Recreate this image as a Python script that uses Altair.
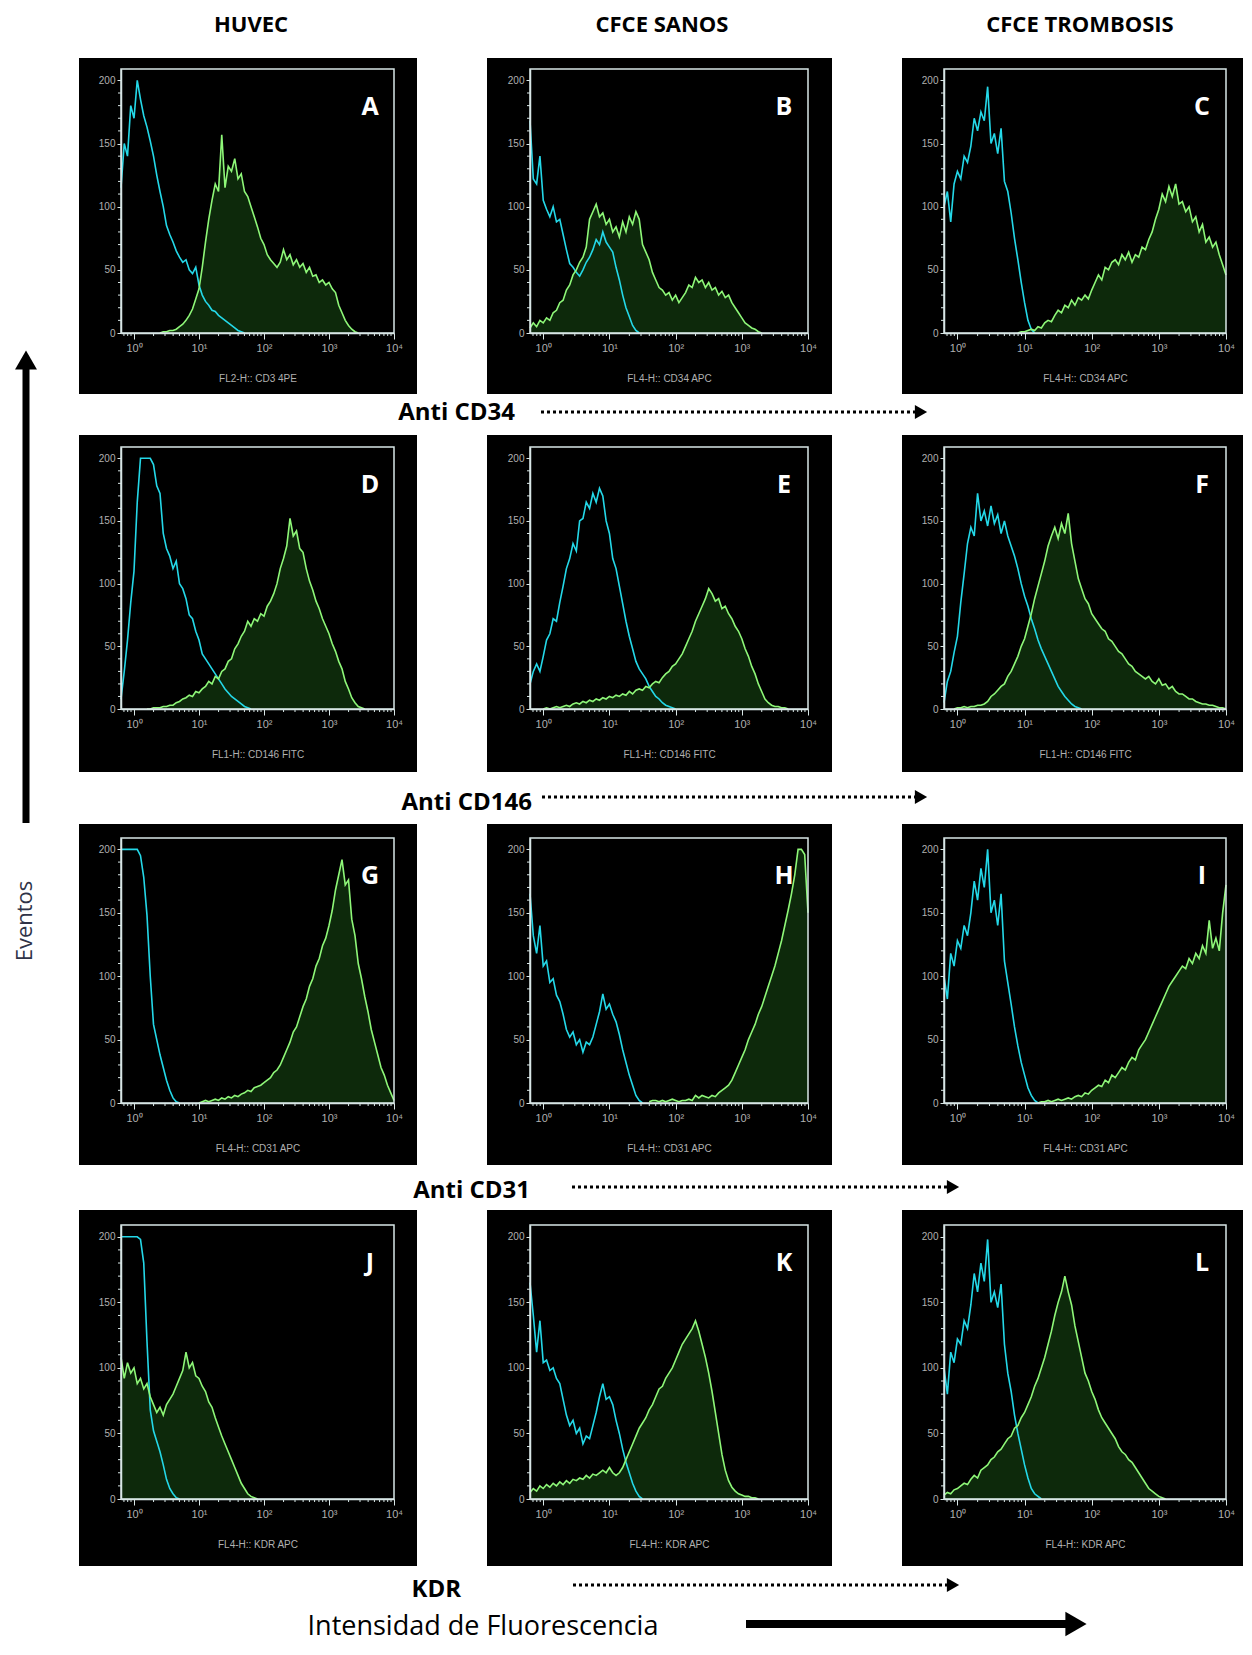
import math
import altair as alt
import pandas as pd

# ---------------------------------------------------------------- data
STEP = 0.05                     # width of one histogram channel, in log10 units
LOG_DOMAIN = [-0.2, 4.0]        # log10 of fluorescence intensity
COUNT_DOMAIN = [0, 209]
X_TICKS = [0, 1, 2, 3, 4]
X_TICK_LABELS = ["10⁰", "10¹", "10²", "10³", "10⁴"]
Y_TICKS = [0, 50, 100, 150, 200]
Y_MINOR = [10, 20, 30, 40, 60, 70, 80, 90, 110, 120, 130, 140, 160, 170, 180, 190]
COLUMN_TITLES = ["HUVEC", "CFCE SANOS", "CFCE TROMBOSIS"]
ROW_MARKERS = ["Anti CD34", "Anti CD146", "Anti CD31", "KDR"]
PANEL_LETTERS = ["A", "B", "C", "D", "E", "F", "G", "H", "I", "J", "K", "L"]
PANEL_AXIS_TITLES = [
    "FL2-H:: CD3 4PE", "FL4-H:: CD34 APC", "FL4-H:: CD34 APC",
    "FL1-H:: CD146 FITC", "FL1-H:: CD146 FITC", "FL1-H:: CD146 FITC",
    "FL4-H:: CD31 APC", "FL4-H:: CD31 APC", "FL4-H:: CD31 APC",
    "FL4-H:: KDR APC", "FL4-H:: KDR APC", "FL4-H:: KDR APC",
]
Y_LABEL = "Eventos"
X_LABEL = "Intensidad de Fluorescencia"

# isotype control (cyan) and marker (green) histograms, one value per channel
A_CYAN_START = -0.2
A_CYAN = [115, 150, 140, 180, 170, 200, 185, 172, 163, 152, 140, 125, 112, 100, 85, 78, 72, 65, 60,
          56, 58, 50, 47, 52, 38, 30, 25, 22, 18, 17, 14, 12, 10, 8, 6, 4, 2, 1, 0]
A_GREEN_START = 0.4
A_GREEN = [0, 1, 1, 2, 2, 3, 5, 7, 10, 14, 19, 27, 35, 52, 72, 90, 105, 118, 112, 157, 115, 132, 128,
           138, 122, 126, 112, 108, 100, 92, 84, 75, 70, 62, 58, 55, 52, 56, 66, 58, 62, 54, 58, 52,
           55, 48, 52, 45, 46, 40, 42, 38, 40, 35, 32, 22, 16, 10, 6, 3, 1, 0]

B_CYAN_START = -0.2
B_CYAN = [168, 122, 118, 140, 105, 98, 92, 100, 88, 90, 78, 66, 55, 52, 48, 45, 50, 56, 60, 66, 74,
          70, 80, 72, 68, 64, 52, 42, 30, 20, 13, 6, 2, 0]
B_GREEN_START = -0.2
B_GREEN = [4, 8, 5, 10, 8, 12, 10, 16, 18, 24, 26, 34, 38, 46, 50, 56, 60, 68, 90, 96, 102, 92, 95,
           86, 90, 80, 84, 76, 88, 80, 92, 86, 96, 90, 70, 64, 58, 48, 42, 36, 34, 30, 32, 26, 30,
           24, 28, 32, 38, 36, 44, 40, 42, 36, 40, 34, 36, 30, 33, 28, 30, 24, 20, 16, 12, 8, 6, 4,
           3, 1, 0]

C_CYAN_START = -0.2
C_CYAN = [100, 112, 88, 118, 128, 122, 140, 135, 148, 170, 160, 175, 168, 195, 150, 158, 142, 162,
          120, 112, 95, 75, 58, 40, 24, 10, 3, 0]
C_GREEN_START = 0.9
C_GREEN = [0, 1, 1, 2, 3, 2, 5, 4, 8, 10, 9, 14, 18, 16, 22, 20, 26, 22, 28, 26, 30, 27, 34, 40, 46,
           42, 52, 50, 56, 58, 54, 62, 58, 64, 56, 62, 60, 68, 66, 74, 80, 90, 98, 110, 104, 116,
           108, 118, 102, 104, 96, 100, 88, 92, 80, 86, 72, 76, 68, 72, 62, 54, 46]

D_CYAN_START = -0.2
D_CYAN = [8, 30, 55, 85, 110, 165, 200, 200, 200, 200, 195, 178, 172, 140, 128, 122, 112, 118, 100,
          96, 88, 75, 72, 62, 55, 44, 40, 36, 32, 28, 24, 20, 16, 13, 10, 8, 6, 4, 2, 1, 0]
D_GREEN_START = 0.2
D_GREEN = [0, 0, 1, 1, 1, 2, 2, 3, 3, 5, 6, 8, 9, 11, 10, 14, 13, 16, 18, 22, 20, 26, 24, 30, 32, 38,
           40, 48, 52, 58, 62, 70, 66, 72, 70, 76, 74, 82, 86, 92, 100, 112, 120, 130, 152, 138, 142,
           128, 125, 112, 102, 95, 86, 80, 72, 66, 60, 52, 46, 38, 32, 22, 16, 9, 5, 2, 1, 0]

E_CYAN_START = -0.2
E_CYAN = [20, 30, 36, 30, 42, 55, 60, 72, 70, 85, 98, 112, 120, 132, 126, 150, 152, 165, 160, 172,
          165, 176, 170, 150, 140, 120, 112, 98, 84, 70, 58, 48, 38, 32, 28, 24, 18, 14, 10, 8, 5,
          3, 2, 1, 0]
E_GREEN_START = 0.0
E_GREEN = [0, 1, 0, 1, 2, 1, 2, 3, 2, 4, 5, 4, 6, 5, 7, 6, 8, 7, 9, 8, 10, 9, 11, 10, 12, 11, 14, 12,
           15, 16, 15, 18, 17, 20, 22, 21, 25, 28, 30, 34, 36, 40, 44, 50, 56, 62, 70, 76, 82, 88,
           96, 92, 86, 88, 80, 82, 76, 72, 66, 62, 56, 48, 42, 34, 28, 20, 14, 8, 5, 3, 2, 2, 1, 1,
           0]

F_CYAN_START = -0.2
F_CYAN = [5, 22, 30, 45, 58, 85, 108, 132, 145, 138, 172, 150, 158, 146, 162, 148, 155, 140, 150,
          138, 130, 122, 112, 100, 90, 82, 72, 64, 55, 48, 42, 36, 30, 24, 18, 14, 10, 7, 4, 2, 1, 0]
F_GREEN_START = -0.05
F_GREEN = [0, 1, 1, 2, 1, 2, 2, 3, 3, 4, 6, 10, 12, 15, 18, 20, 26, 30, 36, 42, 50, 56, 66, 76, 88,
           98, 108, 118, 130, 138, 145, 136, 148, 140, 156, 132, 118, 104, 96, 88, 84, 76, 72, 68,
           64, 62, 56, 54, 50, 46, 44, 40, 36, 34, 30, 28, 26, 24, 26, 22, 20, 24, 19, 20, 16, 18,
           14, 12, 12, 10, 8, 8, 6, 5, 4, 4, 3, 3, 2, 1, 1, 0]

G_CYAN_START = -0.2
G_CYAN = [200, 200, 200, 200, 200, 200, 195, 178, 148, 100, 62, 50, 38, 28, 18, 10, 4, 1, 0]
G_GREEN_START = 1.0
G_GREEN = [0, 1, 2, 1, 2, 3, 2, 4, 3, 5, 4, 6, 5, 7, 8, 10, 9, 12, 13, 14, 16, 18, 20, 24, 26, 30,
           36, 42, 48, 56, 60, 68, 76, 82, 92, 98, 108, 114, 124, 130, 140, 152, 168, 180, 192, 172,
           176, 145, 132, 110, 98, 84, 72, 58, 48, 38, 28, 22, 14, 8, 2]

H_CYAN_START = -0.2
H_CYAN = [165, 132, 118, 140, 108, 112, 95, 98, 85, 80, 70, 58, 52, 56, 46, 50, 40, 48, 46, 52, 62,
          72, 86, 74, 78, 70, 64, 54, 42, 32, 22, 14, 6, 2, 0]
H_GREEN_START = 1.6
H_GREEN = [1, 2, 2, 1, 2, 1, 2, 3, 2, 1, 2, 2, 3, 2, 6, 4, 6, 5, 4, 6, 5, 8, 10, 12, 14, 18, 24, 30,
           36, 42, 50, 56, 62, 70, 76, 84, 92, 100, 108, 118, 128, 140, 152, 165, 180, 200, 200,
           196, 150]

I_CYAN_START = -0.2
I_CYAN = [100, 82, 118, 108, 128, 122, 140, 132, 150, 175, 160, 185, 170, 200, 150, 160, 140, 165,
          112, 95, 78, 60, 45, 32, 22, 12, 6, 2, 0]
I_GREEN_START = 1.2
I_GREEN = [0, 1, 1, 2, 1, 2, 3, 2, 3, 4, 3, 5, 6, 5, 8, 7, 10, 12, 14, 13, 18, 16, 22, 20, 24, 28,
           26, 32, 36, 34, 42, 46, 50, 56, 62, 68, 74, 80, 86, 92, 96, 100, 104, 108, 106, 114,
           110, 118, 114, 124, 118, 144, 122, 130, 120, 150, 172]

J_CYAN_START = -0.2
J_CYAN = [200, 200, 200, 200, 200, 200, 198, 180, 120, 68, 52, 44, 36, 26, 15, 8, 4, 1, 0]
J_GREEN_START = -0.2
J_GREEN = [108, 92, 104, 96, 100, 88, 92, 84, 88, 78, 72, 66, 70, 64, 72, 76, 80, 86, 92, 98, 112,
           100, 104, 94, 92, 86, 82, 74, 70, 62, 55, 48, 42, 36, 30, 24, 18, 12, 8, 4, 2, 1, 0]

K_CYAN_START = -0.2
K_CYAN = [165, 140, 112, 136, 104, 106, 98, 100, 92, 88, 76, 64, 56, 60, 50, 54, 42, 48, 46, 56, 66,
          78, 88, 76, 78, 72, 60, 50, 38, 28, 20, 12, 6, 2, 0]
K_GREEN_START = -0.2
K_GREEN = [5, 8, 6, 10, 8, 11, 9, 12, 10, 13, 11, 14, 12, 15, 14, 16, 15, 18, 16, 19, 18, 20, 22, 20,
           24, 20, 18, 20, 24, 30, 36, 42, 48, 54, 58, 62, 68, 72, 78, 84, 86, 92, 96, 100, 106,
           112, 118, 122, 126, 130, 136, 128, 118, 108, 96, 82, 66, 50, 34, 22, 14, 9, 6, 4, 3, 2,
           2, 1, 1, 0]

L_CYAN_START = -0.2
L_CYAN = [100, 80, 112, 104, 122, 118, 136, 130, 148, 172, 158, 180, 166, 198, 150, 158, 146, 164,
          118, 96, 82, 64, 50, 38, 26, 16, 8, 4, 2, 0]
L_GREEN_START = -0.2
L_GREEN = [3, 5, 4, 7, 8, 10, 12, 11, 15, 18, 16, 22, 24, 26, 30, 32, 36, 38, 42, 46, 48, 54, 56, 62,
           66, 72, 78, 86, 92, 100, 108, 118, 128, 140, 150, 158, 170, 158, 148, 132, 120, 108, 96,
           90, 82, 76, 68, 62, 58, 54, 50, 46, 40, 36, 34, 30, 28, 24, 20, 16, 12, 8, 6, 4, 2, 1, 0]

PANEL_CURVES = [
    (A_CYAN_START, A_CYAN, A_GREEN_START, A_GREEN),
    (B_CYAN_START, B_CYAN, B_GREEN_START, B_GREEN),
    (C_CYAN_START, C_CYAN, C_GREEN_START, C_GREEN),
    (D_CYAN_START, D_CYAN, D_GREEN_START, D_GREEN),
    (E_CYAN_START, E_CYAN, E_GREEN_START, E_GREEN),
    (F_CYAN_START, F_CYAN, F_GREEN_START, F_GREEN),
    (G_CYAN_START, G_CYAN, G_GREEN_START, G_GREEN),
    (H_CYAN_START, H_CYAN, H_GREEN_START, H_GREEN),
    (I_CYAN_START, I_CYAN, I_GREEN_START, I_GREEN),
    (J_CYAN_START, J_CYAN, J_GREEN_START, J_GREEN),
    (K_CYAN_START, K_CYAN, K_GREEN_START, K_GREEN),
    (L_CYAN_START, L_CYAN, L_GREEN_START, L_GREEN),
]

# ---------------------------------------------------------------- styles / layout
CYAN = "#24d8e8"
GREEN = "#8ef778"
GREEN_FILL = "#1d5a19"
FRAME_C = "#d8e6e6"
LABEL_C = "#b0b0b0"
TXT_FONT = "Open Sans"
AX_FONT = "Liberation Sans"

# (left margin, plot width, right margin) per column
COLS = [(42, 273, 23), (43, 278, 24), (42, 282, 17)]
# (top margin, plot height, bottom margin) per row
ROWS = [(11, 264, 61), (12, 262, 63), (14, 265, 62), (15, 274, 67)]
COL_GAP = 70
# the rows of the figure share their origin with the plot area of the first column
ROW_W = sum(sum(c) for c in COLS) + 2 * COL_GAP - COLS[0][0]

# minor log ticks (2..9 within every decade)
MINOR_X = [round(d + math.log10(k), 4) for d in range(-1, 4) for k in range(2, 10)
           if LOG_DOMAIN[0] <= d + math.log10(k) <= LOG_DOMAIN[1]]

ONE = pd.DataFrame({"k": [0]})


def curve_df(start, vals):
    return pd.DataFrame({"logx": [round(start + i * STEP, 3) for i in range(len(vals))],
                         "count": vals})


def x_label_expr():
    expr = "'" + X_TICK_LABELS[-1] + "'"
    for v, lab in reversed(list(zip(X_TICKS[:-1], X_TICK_LABELS[:-1]))):
        expr = f"datum.value == {v} ? '{lab}' : ({expr})"
    return expr


def panel(idx):
    r, c = divmod(idx, 3)
    ml, W, mr = COLS[c]
    mt, H, mb = ROWS[r]
    cs, cv, gs, gv = PANEL_CURVES[idx]
    x_axis = alt.Axis(values=X_TICKS, labelExpr=x_label_expr(), title=PANEL_AXIS_TITLES[idx],
                      titleFont=AX_FONT, titleFontSize=10, titleFontWeight="normal",
                      titleColor=LABEL_C, titlePadding=20, labelFont=AX_FONT, labelFontSize=11,
                      labelColor=LABEL_C, labelFlush=False, labelPadding=3, tickSize=6,
                      tickColor=FRAME_C, domainColor=FRAME_C, domainWidth=1.5, grid=False,
                      zindex=1)
    y_axis = alt.Axis(values=Y_TICKS, title=None, labelFont=AX_FONT, labelFontSize=10,
                      labelColor=LABEL_C, labelPadding=2, labelFlush=False, tickSize=4,
                      tickColor=FRAME_C, domainColor=FRAME_C, domainWidth=1.5, grid=False,
                      zindex=1)
    X = alt.X("logx:Q", scale=alt.Scale(domain=LOG_DOMAIN, nice=False, zero=False), axis=x_axis)
    Y = alt.Y("count:Q", scale=alt.Scale(domain=COUNT_DOMAIN, nice=False), axis=y_axis)

    bg = alt.Chart(ONE).mark_rect(color="black").encode(
        x=alt.value(-ml), x2=alt.value(W + mr), y=alt.value(-mt), y2=alt.value(H + mb))
    cyan_df = curve_df(cs, cv)
    green_df = curve_df(gs, gv)
    area = alt.Chart(green_df).mark_area(color=GREEN_FILL, opacity=0.45).encode(x=X, y=Y)
    cyan = alt.Chart(cyan_df).mark_line(color=CYAN, strokeWidth=1.6).encode(x=X, y=Y)
    green = alt.Chart(green_df).mark_line(color=GREEN, strokeWidth=1.6).encode(x=X, y=Y)
    mx = alt.Chart(pd.DataFrame({"logx": MINOR_X})).mark_rule(color=FRAME_C, strokeWidth=1).encode(
        x=X, y=alt.value(H), y2=alt.value(H + 3))
    my = alt.Chart(pd.DataFrame({"count": Y_MINOR})).mark_rule(color=FRAME_C, strokeWidth=1).encode(
        y=Y, x=alt.value(-3), x2=alt.value(0))
    frame = alt.Chart(ONE).mark_rect(fill="transparent", stroke=FRAME_C, strokeWidth=1.5).encode(
        x=alt.value(0), x2=alt.value(W), y=alt.value(0), y2=alt.value(H))
    letter = alt.Chart(ONE).mark_text(text=PANEL_LETTERS[idx], font=TXT_FONT, fontSize=25,
                                      fontWeight="bold", color="white", align="center",
                                      baseline="middle").encode(
        x=alt.value(W - 24), y=alt.value(38))
    return alt.layer(bg, area, cyan, green, mx, my, frame, letter).properties(width=W, height=H)


def txt(text, x, y, size, bold=True, align="center", angle=0, color="black"):
    kw = dict(text=text, font=TXT_FONT, fontSize=size, fontWeight="bold" if bold else "normal",
              align=align, baseline="middle", color=color)
    if angle:
        kw["angle"] = angle
    return alt.Chart(ONE).mark_text(**kw).encode(x=alt.value(x), y=alt.value(y))


def dotted_arrow(x1, x2, y):
    line = alt.Chart(ONE).mark_rule(color="black", strokeWidth=3, strokeDash=[3, 3]).encode(
        x=alt.value(x1), x2=alt.value(x2 - 12), y=alt.value(y))
    head = alt.Chart(ONE).mark_point(shape="triangle-right", filled=True, color="black",
                                     opacity=1, size=200).encode(
        x=alt.value(x2 - 7), y=alt.value(y))
    return [line, head]


def label_row(height, marker, tx, ty, ax1, ax2, ay, extra=None):
    layers = [txt(marker, tx, ty, 24, align="right")] + dotted_arrow(ax1, ax2, ay)
    if extra:
        layers += extra
    return alt.layer(*layers).properties(width=ROW_W, height=height)


# header (x measured from the plot origin of the first column)
header = alt.layer(
    txt(COLUMN_TITLES[0], 130, 17, 22),
    txt(COLUMN_TITLES[1], 541, 17, 22),
    txt(COLUMN_TITLES[2], 959, 17, 22),
).properties(width=ROW_W, height=50)

rows = [alt.hconcat(*[panel(r * 3 + c) for c in range(3)], spacing=COL_GAP) for r in range(4)]

lab1 = label_row(41, ROW_MARKERS[0], 394, 19, 420, 807, 18)
lab2 = label_row(52, ROW_MARKERS[1], 411, 31, 421, 807, 25)
lab3 = label_row(45, ROW_MARKERS[2], 409, 26, 451, 839, 22)

solid_line = alt.Chart(ONE).mark_rule(color="black", strokeWidth=8).encode(
    x=alt.value(625), x2=alt.value(950), y=alt.value(58))
solid_head = alt.Chart(ONE).mark_point(shape="triangle-right", filled=True, color="black",
                                       opacity=1, size=600).encode(
    x=alt.value(955), y=alt.value(58))
bottom = label_row(76, ROW_MARKERS[3], 340, 24, 452, 839, 19,
                   extra=[txt(X_LABEL, 362, 61, 27, bold=False), solid_line, solid_head])

grid = alt.vconcat(header, rows[0], lab1, rows[1], lab2, rows[2], lab3, rows[3], bottom,
                   spacing=0)

# left: vertical arrow + "Eventos"
v_line = alt.Chart(ONE).mark_rule(color="black", strokeWidth=7).encode(
    x=alt.value(18), y=alt.value(815), y2=alt.value(358))
v_head = alt.Chart(ONE).mark_point(shape="triangle-up", filled=True, color="black",
                                   opacity=1, size=480).encode(
    x=alt.value(18), y=alt.value(352))
left = alt.layer(v_line, v_head, txt(Y_LABEL, 17, 913, 22, bold=False, angle=270,
                                     color="#2f3347")).properties(width=71, height=1634)

chart = alt.hconcat(left, grid, spacing=0).properties(
    padding=0, background="white"
).configure_view(strokeWidth=0)

chart.save("out.html", embed_options={"renderer": "svg", "actions": False})
